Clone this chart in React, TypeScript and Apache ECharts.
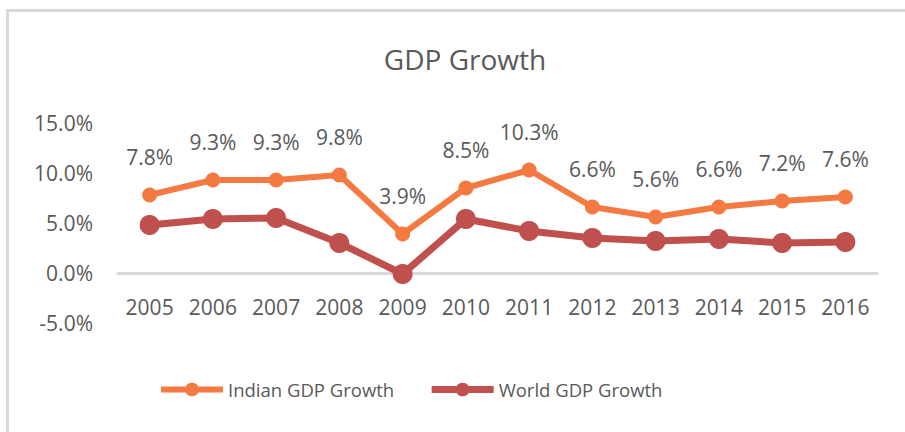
import React, { useEffect, useRef } from "react";
import * as echarts from "echarts";

const years = ["2005", "2006", "2007", "2008", "2009", "2010", "2011", "2012", "2013", "2014", "2015", "2016"];
const indianGrowth = [7.8, 9.3, 9.3, 9.8, 3.9, 8.5, 10.3, 6.6, 5.6, 6.6, 7.2, 7.6];
const worldGrowth = [4.8, 5.4, 5.5, 3.0, -0.1, 5.4, 4.2, 3.5, 3.2, 3.4, 3.0, 3.1];

const FONT = "'Open Sans', 'Noto Sans', sans-serif";
const TEXT = "#595959";
const ORANGE = "#F47A42";
const RED = "#C0504D";

export default function App() {
  const ref = useRef<HTMLDivElement>(null);
  useEffect(() => {
    document.body.style.margin = "0";
    if (!ref.current) return;
    const chart = echarts.init(ref.current, undefined, { renderer: "svg" });
    chart.setOption({
      animation: false,
      backgroundColor: "#ffffff",
      textStyle: { fontFamily: FONT, color: TEXT },
      title: {
        text: "GDP Growth",
        left: 460,
        textAlign: "center",
        top: 40,
        textStyle: { fontFamily: FONT, fontSize: 28, fontWeight: "normal", color: TEXT },
      },
      graphic: [
        { type: "rect", shape: { x: 7.5, y: 10.5, width: 1000, height: 1000 }, style: { fill: "none", stroke: "#d9d9d9", lineWidth: 3 } },
      ],
      legend: {
        left: 153,
        top: 375,
        itemWidth: 62,
        itemHeight: 17,
        itemGap: 34,
        textStyle: { fontFamily: FONT, fontSize: 18.5, color: TEXT },
        data: [
          { name: "Indian GDP Growth", lineStyle: { width: 6, color: ORANGE }, itemStyle: { color: ORANGE } },
          { name: "World GDP Growth", lineStyle: { width: 7, color: RED }, itemStyle: { color: RED } },
        ],
      },
      grid: { left: 118, right: 28, top: 123, bottom: 109 },
      xAxis: {
        type: "category",
        data: years,
        boundaryGap: true,
        offset: -50,
        axisLine: { onZero: false, lineStyle: { color: "#d9d9d9", width: 3 } },
        axisTick: { show: false },
        axisLabel: { fontFamily: FONT, fontSize: 21, color: TEXT, margin: 23 },
      },
      yAxis: {
        type: "value",
        min: -5,
        max: 15,
        interval: 5,
        axisLine: { show: false },
        axisTick: { show: false },
        splitLine: { show: false },
        axisLabel: {
          fontFamily: FONT,
          fontSize: 21,
          color: TEXT,
          margin: 25,
          formatter: (v: number) => v.toFixed(1) + "%",
        },
      },
      series: [
        {
          name: "Indian GDP Growth",
          type: "line",
          data: indianGrowth,
          symbol: "circle",
          symbolSize: 15,
          itemStyle: { color: ORANGE },
          lineStyle: { color: ORANGE, width: 6 },
          label: {
            show: true,
            position: "top",
            distance: 20,
            fontFamily: FONT,
            fontSize: 21,
            color: TEXT,
            formatter: (p: any) => Number(p.value).toFixed(1) + "%",
          },
          z: 3,
        },
        {
          name: "World GDP Growth",
          type: "line",
          data: worldGrowth,
          symbol: "circle",
          symbolSize: 20,
          itemStyle: { color: RED },
          lineStyle: { color: RED, width: 7 },
          z: 2,
        },
      ],
    });
    return () => chart.dispose();
  }, []);
  return <div ref={ref} style={{ width: 905, height: 432 }} />;
}
